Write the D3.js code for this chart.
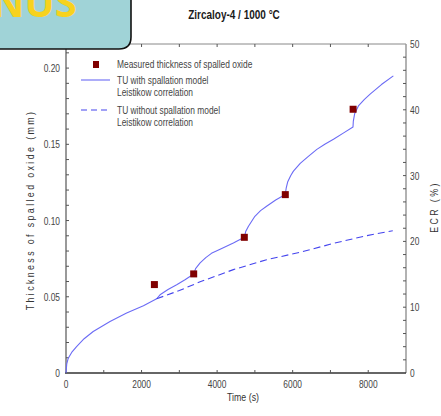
<!DOCTYPE html>
<html>
<head>
<meta charset="utf-8">
<script src="https://cdn.jsdelivr.net/npm/d3@7"></script>
<style>
body { margin: 0; background: #fff; }
text { font-family: "Liberation Sans", Arial, sans-serif; }
</style>
</head>
<body>
<script>
// measured thickness of spalled oxide (s, mm)
var measTime = [2340, 3380, 4720, 5805, 7600];
var measThick = [0.058, 0.065, 0.089, 0.117, 0.173];

// TU with spallation model, Leistikow correlation
var withTime = [0, 20, 60, 150, 280, 480, 720, 1165, 1605, 2050, 2400,
	2490, 2700, 2930, 3150, 3380,
	3430, 3550, 3700, 3850, 4080, 4430, 4720,
	4760, 4830, 5000, 5150, 5310, 5550, 5805,
	5830, 5870, 5950, 6020, 6200, 6400, 6640, 6850, 7080, 7350, 7597,
	7605, 7640, 7740, 7900, 8050, 8350, 8665];
var withThick = [0, 0.0060, 0.0097, 0.0135, 0.0173, 0.0225, 0.0272, 0.0338, 0.0393, 0.0441, 0.0487,
	0.0513, 0.0548, 0.0579, 0.0612, 0.0649,
	0.0685, 0.0722, 0.0757, 0.0785, 0.0812, 0.0853, 0.0890,
	0.0930, 0.0963, 0.1028, 0.1065, 0.1094, 0.1135, 0.1171,
	0.1215, 0.1255, 0.1295, 0.1324, 0.1375, 0.1418, 0.1467, 0.1500, 0.1533, 0.1575, 0.1614,
	0.1650, 0.1700, 0.1752, 0.1795, 0.1829, 0.1892, 0.1949];

// TU without spallation model, Leistikow correlation
var withoutTime = [2400, 3000, 3550, 4430, 5310, 6200, 7080, 7960, 8650];
var withoutThick = [0.0487, 0.0541, 0.0598, 0.0678, 0.0743, 0.0792, 0.0850, 0.0901, 0.0933];

var xTicks = [0, 2000, 4000, 6000, 8000];
var yTicks = [0, 0.05, 0.10, 0.15, 0.20];
var ecrTicks = [0, 10, 20, 30, 40, 50];

var width = 441, height = 416;
var margin = { top: 44, right: 35, bottom: 43, left: 66 };
var squeeze = 0.8; // the original uses a narrow face

var svg = d3.select("body").append("svg")
	.attr("width", width)
	.attr("height", height);

// narrow text: draw at origin, then translate/rotate/squeeze
function label(parent, x, y, str, size, anchor, rotate, color, spacing) {
	var g = parent.append("g")
		.attr("transform", "translate(" + x + "," + y + ")" + (rotate ? " rotate(-90)" : "") + " scale(" + squeeze + ",1)");
	var t = g.append("text")
		.attr("text-anchor", anchor || "start")
		.attr("font-size", size)
		.attr("fill", color || "#444")
		.text(str);
	if (spacing) t.attr("letter-spacing", spacing);
	return t;
}

var x = d3.scaleLinear().domain([0, 9000]).range([margin.left, width - margin.right]);
var y = d3.scaleLinear().domain([0, 0.2158]).range([height - margin.bottom, margin.top]);
var yEcr = d3.scaleLinear().domain([0, 50]).range([height - margin.bottom, margin.top]);

var x0 = x.range()[0], x1 = x.range()[1];
var y0 = y.range()[0], y1 = y.range()[1];

// frame lines
svg.append("line").attr("x1", x0).attr("x2", x1).attr("y1", y1).attr("y2", y1)
	.attr("stroke", "#888").attr("stroke-width", 1);
svg.append("line").attr("x1", x1).attr("x2", x1).attr("y1", y1).attr("y2", y0)
	.attr("stroke", "#999").attr("stroke-width", 1.5);
svg.append("line").attr("x1", x0).attr("x2", x0).attr("y1", y1).attr("y2", y0)
	.attr("stroke", "#999").attr("stroke-width", 2);
svg.append("line").attr("x1", x0 - 1).attr("x2", x1).attr("y1", y0).attr("y2", y0)
	.attr("stroke", "#333").attr("stroke-width", 1.5);

// minor + major ticks (inward)
var tickColor = "#555";
d3.range(1000, 9000, 1000).forEach(function(t) {
	svg.append("line").attr("x1", x(t)).attr("x2", x(t)).attr("y1", y0).attr("y2", y0 - 3)
		.attr("stroke", tickColor).attr("stroke-width", 1);
	svg.append("line").attr("x1", x(t)).attr("x2", x(t)).attr("y1", y1).attr("y2", y1 + 3)
		.attr("stroke", tickColor).attr("stroke-width", 1);
});
d3.range(1, 22).forEach(function(i) {
	var v = i / 100;
	svg.append("line").attr("x1", x0).attr("x2", x0 + 3).attr("y1", y(v)).attr("y2", y(v))
		.attr("stroke", tickColor).attr("stroke-width", 1);
});
d3.range(2, 50, 2).forEach(function(v) {
	svg.append("line").attr("x1", x1 - 3).attr("x2", x1).attr("y1", yEcr(v)).attr("y2", yEcr(v))
		.attr("stroke", tickColor).attr("stroke-width", 1);
});

// tick labels
xTicks.forEach(function(d) {
	label(svg, x(d), y0 + 15, d, 10.5, "middle");
});
yTicks.forEach(function(d) {
	label(svg, x0 - 6, y(d) + 4, d == 0 ? "0" : d3.format(".2f")(d), 10.5, "end");
});
ecrTicks.forEach(function(d) {
	label(svg, x1 + 4, yEcr(d) + 4, d, 10.5, "start");
});

// axis titles
label(svg, 243, 401, "Time (s)", 11, "middle", false, "#333");
label(svg, 34, 210, "Thickness of spalled oxide (mm)", 11, "middle", true, "#333", 3);
label(svg, 438, 207, "ECR (%)", 11, "middle", true, "#333", 3);
label(svg, 234, 19, "Zircaloy-4 / 1000 \u00B0C", 12.5, "middle", false, "#1a1a1a")
	.attr("font-weight", "bold");

// curves
var line = d3.line()
	.x(function(d) { return x(d[0]); })
	.y(function(d) { return y(d[1]); })
	.curve(d3.curveLinear);

svg.append("path")
	.datum(d3.zip(withTime, withThick))
	.attr("d", line)
	.attr("fill", "none").attr("stroke", "#6b6bf5").attr("stroke-width", 1.1)
	.attr("stroke-linejoin", "round");

svg.append("path")
	.datum(d3.zip(withoutTime, withoutThick))
	.attr("d", line)
	.attr("fill", "none").attr("stroke", "#4545ee").attr("stroke-width", 1.1)
	.attr("stroke-dasharray", "7,4");

svg.append("g").selectAll("rect").data(d3.zip(measTime, measThick)).enter().append("rect")
	.attr("x", function(d) { return x(d[0]) - 3.5; })
	.attr("y", function(d) { return y(d[1]) - 3.5; })
	.attr("width", 7).attr("height", 7)
	.attr("fill", "#800000");

// legend
var leg = svg.append("g");
leg.append("rect").attr("x", 93).attr("y", 61).attr("width", 6).attr("height", 7).attr("fill", "#800000");
label(leg, 117, 68, "Measured thickness of spalled oxide", 10.5);
leg.append("line").attr("x1", 81).attr("x2", 110).attr("y1", 80).attr("y2", 80)
	.attr("stroke", "#6b6bf5").attr("stroke-width", 1.1);
label(leg, 117, 84, "TU with spallation model", 10.5);
label(leg, 117, 96, "Leistikow correlation", 10.5);
leg.append("line").attr("x1", 81).attr("x2", 110).attr("y1", 110).attr("y2", 110)
	.attr("stroke", "#4545ee").attr("stroke-width", 1.1).attr("stroke-dasharray", "6,4");
label(leg, 117, 114, "TU without spallation model", 10.5);
label(leg, 117, 126, "Leistikow correlation", 10.5);

// slide badge in the corner
var badge = svg.append("g");
badge.append("path")
	.attr("d", "M-5,-5 L131,-5 L131,37 Q131,49 119,49 L-5,49 Z")
	.attr("fill", "#a0d3d7").attr("stroke", "#111").attr("stroke-width", 1.6);
badge.append("text")
	.attr("x", -8).attr("y", 17)
	.attr("font-weight", "bold").attr("font-size", 40).attr("fill", "#f7d21e")
	.style("font-family", "'Open Sans', 'DejaVu Sans', sans-serif")
	.text("NUS");
</script>
</body>
</html>
